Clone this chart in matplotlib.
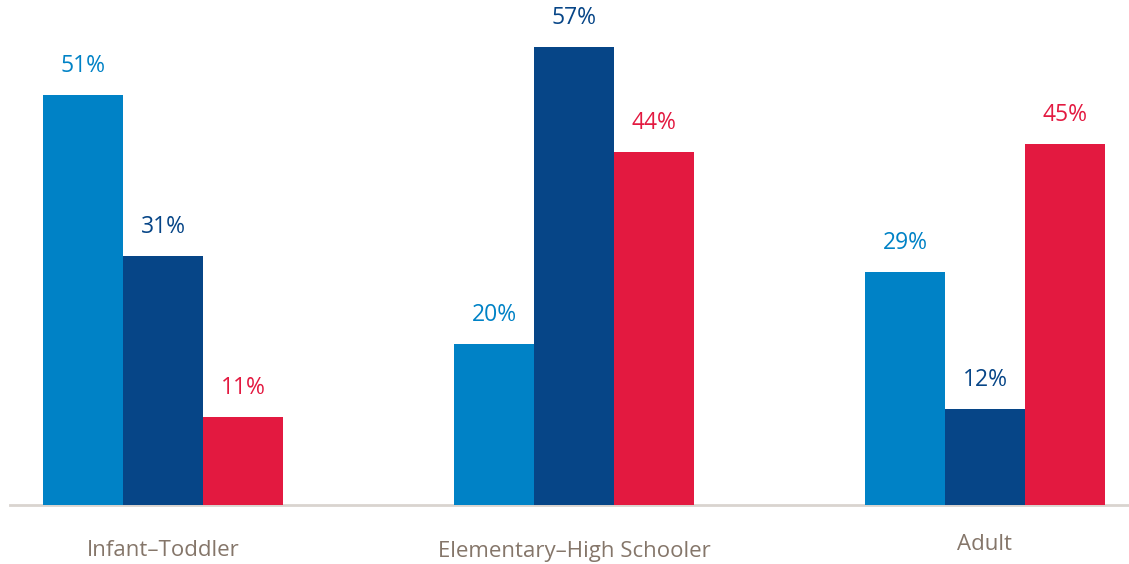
import matplotlib.pyplot as plt
import numpy as np

plt.rcParams['font.family'] = ['Open Sans', 'DejaVu Sans']

categories = ["Infant\u2013Toddler", "Elementary\u2013High Schooler", "Adult"]
series_a = [51, 20, 29]
series_b = [31, 57, 12]
series_c = [11, 44, 45]

colors = ["#0082C6", "#064587", "#E31940"]
label_color = "#85766A"

W, H = 1129, 564
fig = plt.figure(figsize=(W / 100, H / 100), dpi=100)
ax = fig.add_axes([10 / W, 59 / H, 1119 / W, 505 / H])

x = np.arange(len(categories))
width = 80 / 411
px_per_unit = 8.03

for i, (vals, col) in enumerate(zip([series_a, series_b, series_c], colors)):
    pos = x + (i - 1) * width
    ax.bar(pos, vals, width=width, color=col, zorder=3)
    for p, v in zip(pos, vals):
        ax.annotate(f"{v}%", (p, v), xytext=(0, 17), textcoords="offset pixels",
                    ha="center", va="bottom", color=col, fontsize=16.5)

# category labels (the Adult label sits a little higher in the original)
label_drop = [46, 46, 40]
for xi, name, d in zip(x, categories, label_drop):
    ax.annotate(name, (xi, 0), xytext=(0, -d), textcoords="offset pixels",
                ha="center", va="center", color=label_color, fontsize=16,
                annotation_clip=False)

ax.set_xlim((10 - 163) / 411, (1129 - 163) / 411)
ax.set_ylim(0, 505 / px_per_unit)

for s in ["top", "right", "left"]:
    ax.spines[s].set_visible(False)
ax.spines["bottom"].set_color("#D9D4CF")
ax.spines["bottom"].set_linewidth(2)
ax.set_yticks([])
ax.set_xticks([])

fig.savefig("out.png", dpi=100)
